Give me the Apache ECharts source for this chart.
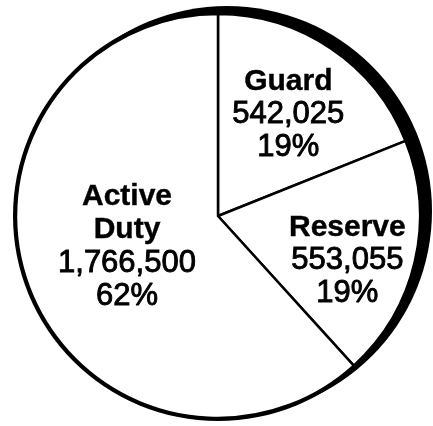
<!DOCTYPE html>
<html>
<head>
<meta charset="utf-8">
<script src="https://cdn.jsdelivr.net/npm/echarts@6/dist/echarts.min.js"></script>
<style>
html,body{margin:0;padding:0;background:#fff;}
#main{width:433px;height:426px;}
</style>
</head>
<body>
<div id="main"></div>
<script>
var categories = ['Guard', 'Reserve', 'Active\nDuty'];
var values = [542025, 553055, 1766500];
var percentLabels = ['19%', '19%', '62%'];

var total = values.reduce(function (a, b) { return a + b; }, 0);
var labelOffsets = [[12, -15], [28, 21], [6, -7]];

function fmt(n) { return n.toString().replace(/\B(?=(\d{3})+(?!\d))/g, ','); }

var chart = echarts.init(document.getElementById('main'), null, { renderer: 'canvas' });
var cx = 218, cy = 216, R = 202;
var FONT = '"Liberation Sans", Arial, Helvetica, sans-serif';

var option = {
  backgroundColor: '#ffffff',
  animation: false,
  series: [
    {
      type: 'pie', silent: true, z: 1,
      center: [cx + 9, cy - 5], radius: [0, R + 3],
      label: { show: false }, labelLine: { show: false },
      itemStyle: { color: '#000', borderWidth: 0 },
      data: [{ value: total }]
    },
    {
      type: 'pie', silent: true, z: 1,
      center: [cx, cy], radius: [0, R + 3],
      label: { show: false }, labelLine: { show: false },
      itemStyle: { color: '#000', borderWidth: 0 },
      data: [{ value: total }]
    },
    {
      type: 'pie', z: 2,
      center: [cx, cy], radius: [0, R],
      startAngle: 90, clockwise: true,
      avoidLabelOverlap: false,
      itemStyle: { color: '#ffffff', borderColor: '#000', borderWidth: 2.5 },
      labelLine: { show: false },
      label: {
        show: true, position: 'inside',
        color: '#000',
        fontFamily: FONT,
        fontSize: 31, lineHeight: 33,
        align: 'center',
        formatter: function (p) {
          var i = p.dataIndex;
          var name = categories[i].split('\n').map(function (s) { return '{b|' + s + '}'; }).join('\n');
          return name + '\n{n|' + fmt(values[i]) + '}\n{n|' + percentLabels[i] + '}';
        },
        rich: {
          b: { fontWeight: 'bold', fontSize: 30, lineHeight: 33, color: '#000', fontFamily: FONT, textBorderColor: '#000', textBorderWidth: 0.4 },
          n: { fontWeight: 'normal', fontSize: 31, lineHeight: 33, color: '#000', fontFamily: FONT, textBorderColor: '#000', textBorderWidth: 0.9 }
        }
      },
      data: values.map(function (v, i) {
        return { value: v, name: categories[i], label: { offset: labelOffsets[i] } };
      })
    }
  ]
};
chart.setOption(option);
</script>
</body>
</html>
